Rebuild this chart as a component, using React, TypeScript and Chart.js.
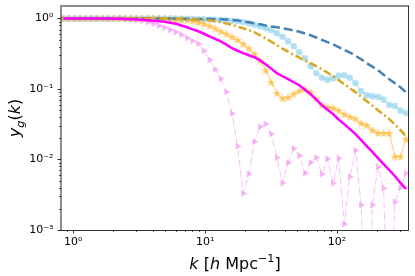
import React, { useEffect, useRef } from 'react';
import { Chart, registerables } from 'chart.js';
Chart.register(...registerables);

// wavenumbers k [h/Mpc]
const kValues = [
  0.843, 0.930, 1.026, 1.131, 1.248, 1.376, 1.518, 1.674, 1.847, 2.037,
  2.247, 2.479, 2.734, 3.016, 3.326, 3.669, 4.047, 4.464, 4.923, 5.431,
  5.990, 6.607, 7.289, 8.038, 8.866, 9.779, 10.79, 11.90, 13.12, 14.47,
  15.97, 17.61, 19.43, 21.43, 23.63, 26.07, 28.76, 31.72, 34.98, 38.59,
  42.56, 46.95, 51.78, 57.12, 63.00, 69.50, 76.66, 84.56, 93.25, 102.8,
  113.4, 125.1, 138.0, 152.2, 167.9, 185.2, 204.3, 225.4, 248.6, 274.2,
  302.5, 333.6,
];

// steelblue dashed
const yDashed = [
  1, 1, 1, 1, 1, 1, 1, 1, 1, 1,
  1, 1, 1, 1, 1, 1, 1, 1, 1, 1,
  1, 0.995, 0.995, 0.99, 0.99, 0.99, 0.985, 0.985, 0.98, 0.975,
  0.96, 0.94, 0.915, 0.885, 0.858, 0.83, 0.80, 0.775, 0.753, 0.73,
  0.705, 0.68, 0.65, 0.615, 0.58, 0.54, 0.50, 0.465, 0.432, 0.395,
  0.361, 0.33, 0.297, 0.265, 0.233, 0.208, 0.185, 0.16, 0.138, 0.121,
  0.106, 0.090,
];

// skyblue circles
const yCircles = [
  1, 1, 1, 1, 1, 1, 1, 1, 1, 1,
  1, 1, 1, 1, 1, 1, 1, 1, 1, 1,
  1, 0.995, 0.99, 0.985, 0.98, 0.975, 0.97, 0.965, 0.96, 0.946,
  0.93, 0.916, 0.887, 0.858, 0.817, 0.778, 0.729, 0.683, 0.619, 0.552,
  0.477, 0.405, 0.333, 0.274, 0.211, 0.168, 0.145, 0.136, 0.143, 0.155,
  0.157, 0.145, 0.121, 0.0934, 0.082, 0.079, 0.078, 0.0708, 0.060, 0.0573,
  0.0494, 0.0455,
];

// goldenrod dash-dot
const yDashDot = [
  1, 1, 1, 1, 1, 1, 1, 1, 1, 1,
  1, 1, 1, 1, 1, 1, 1, 1, 1, 1,
  1, 0.995, 0.99, 0.98, 0.97, 0.96, 0.946, 0.915, 0.886, 0.85,
  0.817, 0.77, 0.729, 0.685, 0.64, 0.58, 0.526, 0.47, 0.419, 0.375,
  0.339, 0.307, 0.279, 0.255, 0.233, 0.211, 0.191, 0.171, 0.152, 0.134,
  0.117, 0.103, 0.0904, 0.078, 0.0674, 0.058, 0.0502, 0.0435, 0.0375, 0.0315,
  0.0262, 0.0215,
];

// orange stars
const yStars = [
  1.02, 1.02, 1.02, 1.02, 1.02, 1.02, 1.02, 1.02, 1.02, 1.02,
  1.02, 1.02, 1.02, 1.02, 1.02, 1.02, 1.02, 1.02, 1.01, 0.99,
  0.97, 0.965, 0.96, 0.93, 0.886, 0.844, 0.79, 0.729, 0.661, 0.609,
  0.552, 0.501, 0.44, 0.38, 0.317, 0.257, 0.185, 0.125, 0.0873, 0.074,
  0.0766, 0.0861, 0.095, 0.0995, 0.0902, 0.074, 0.06, 0.0558, 0.054, 0.050,
  0.044, 0.0406, 0.0382, 0.0329, 0.0308, 0.0263, 0.0238, 0.0238, 0.0238, 0.011,
  0.011, 0.0196,
];

// magenta solid
const yMagenta = [
  1, 1, 1, 1, 1, 1, 1, 1, 1, 0.998,
  0.995, 0.99, 0.98, 0.972, 0.962, 0.948, 0.931, 0.915, 0.90, 0.875,
  0.844, 0.80, 0.753, 0.705, 0.661, 0.61, 0.561, 0.517, 0.477, 0.427,
  0.38, 0.35, 0.323, 0.302, 0.283, 0.255, 0.225, 0.195, 0.168, 0.152,
  0.138, 0.125, 0.1135, 0.098, 0.0847, 0.071, 0.0591, 0.051, 0.0441, 0.037,
  0.0318, 0.027, 0.023, 0.0189, 0.0155, 0.0128, 0.0105, 0.00863, 0.0071, 0.00584,
  0.00465, 0.00382,
];

// violet triangles (1e-5 = below the axis)
const yTriangles = [
  1, 1, 1, 1, 1, 1, 1, 1, 1, 1,
  1, 0.985, 0.962, 0.946, 0.928, 0.886, 0.847, 0.796, 0.746, 0.694,
  0.644, 0.59, 0.53, 0.483, 0.44, 0.35, 0.26, 0.19, 0.14, 0.0912,
  0.0451, 0.0155, 0.00328, 0.00623, 0.0179, 0.0292, 0.0321, 0.0230, 0.0106, 0.0046,
  0.0090, 0.0144, 0.0113, 0.00638, 0.0091, 0.0107, 0.00623, 0.0103, 0.0046, 0.0104,
  0.00121, 0.0057, 0.0136, 0.00227, 0.00001, 0.00227, 0.0079, 0.0039, 0.00001, 0.0025,
  0.004, 0.0064,
];

const xTickValues = [1, 10, 100];
const xTickLabels = ['10⁰', '10¹', '10²'];
const yTickValues = [0.001, 0.01, 0.1, 1];
const yTickLabels = ['10⁻³', '10⁻²', '10⁻¹', '10⁰'];

const FONT = 'DejaVu Sans';

function makeStar(size: number, color: string) {
  const c = document.createElement('canvas');
  c.width = size;
  c.height = size;
  const g = c.getContext('2d')!;
  const cx = size / 2, cy = size / 2 + 0.5;
  const R = size / 2 - 0.3;
  const r = R * 0.42;
  g.beginPath();
  for (let i = 0; i < 10; i++) {
    const ang = -Math.PI / 2 + (i * Math.PI) / 5;
    const rr = i % 2 ? r : R;
    g.lineTo(cx + rr * Math.cos(ang), cy + rr * Math.sin(ang));
  }
  g.closePath();
  g.fillStyle = color;
  g.fill();
  return c;
}

type Part = { t: string; it?: boolean; sup?: boolean; sub?: boolean };

function drawRich(ctx: CanvasRenderingContext2D, parts: Part[], x: number, y: number, size: number) {
  const fontFor = (p: Part) => {
    const s = p.sup || p.sub ? size * 0.7 : size;
    return `${p.it ? 'italic ' : ''}${s}px "${FONT}"`;
  };
  let total = 0;
  const widths = parts.map((p) => {
    ctx.font = fontFor(p);
    const w = ctx.measureText(p.t).width;
    total += w;
    return w;
  });
  let cx = x - total / 2;
  ctx.textAlign = 'left';
  ctx.textBaseline = 'alphabetic';
  parts.forEach((p, i) => {
    ctx.font = fontFor(p);
    const dy = p.sup ? -size * 0.42 : p.sub ? size * 0.22 : 0;
    ctx.fillText(p.t, cx, y + dy);
    cx += widths[i];
  });
}

const framePlugin = {
  id: 'frame',
  afterDraw(chart: any) {
    const { ctx, chartArea: a, scales } = chart;
    const sx = scales.x, sy = scales.y;
    ctx.save();
    // minor ticks
    ctx.strokeStyle = '#333';
    ctx.lineWidth = 0.8;
    for (let d = -4; d <= 3; d++) {
      for (let m = 2; m <= 9; m++) {
        const v = m * Math.pow(10, d);
        if (v >= sx.min && v <= sx.max) {
          const px = Math.round(sx.getPixelForValue(v)) + 0.5;
          ctx.beginPath();
          ctx.moveTo(px, a.bottom);
          ctx.lineTo(px, a.bottom + 2);
          ctx.stroke();
        }
        if (v >= sy.min && v <= sy.max) {
          const py = Math.round(sy.getPixelForValue(v)) + 0.5;
          ctx.beginPath();
          ctx.moveTo(a.left, py);
          ctx.lineTo(a.left - 2, py);
          ctx.stroke();
        }
      }
    }
    // spines
    ctx.strokeStyle = 'rgba(0,0,0,0.45)';
    ctx.lineWidth = 2;
    ctx.beginPath();
    ctx.moveTo(a.left, a.bottom);
    ctx.lineTo(a.left, a.top);
    ctx.lineTo(a.right, a.top);
    ctx.stroke();
    ctx.strokeStyle = 'rgba(0,0,0,0.8)';
    ctx.lineWidth = 1;
    ctx.beginPath();
    ctx.moveTo(a.right - 0.5, a.top);
    ctx.lineTo(a.right - 0.5, a.bottom + 0.5);
    ctx.lineTo(a.left - 1, a.bottom + 0.5);
    ctx.stroke();
    // axis titles
    ctx.fillStyle = '#000';
    drawRich(
      ctx,
      [{ t: 'k', it: true }, { t: ' [' }, { t: 'h', it: true }, { t: ' Mpc' }, { t: '−1', sup: true }, { t: ']' }],
      (a.left + a.right) / 2,
      269,
      16
    );
    ctx.save();
    ctx.translate(20, (a.top + a.bottom) / 2);
    ctx.rotate(-Math.PI / 2);
    drawRich(
      ctx,
      [{ t: 'y', it: true }, { t: 'g', it: true, sub: true }, { t: '(' }, { t: 'k', it: true }, { t: ')' }],
      0,
      0,
      16
    );
    ctx.restore();
    ctx.restore();
  },
};

export default function App() {
  const ref = useRef<HTMLCanvasElement>(null);
  useEffect(() => {
    document.body.style.margin = '0';
    const star = makeStar(10, 'rgba(255,165,0,0.55)');
    const pts = (arr: number[]) => kValues.map((k, i) => ({ x: k, y: arr[i] }));
    const chart = new Chart(ref.current!, {
      type: 'line',
      data: {
        datasets: [
          {
            data: pts(yMagenta),
            borderColor: '#ff00ff',
            borderWidth: 2.5,
            pointRadius: 0,
            order: 0,
          },
          {
            data: pts(yDashDot),
            borderColor: '#daa520',
            borderWidth: 2.5,
            borderDash: [8, 3, 2, 3],
            pointRadius: 0,
            order: 1,
          },
          {
            data: pts(yDashed),
            borderColor: '#4682b4',
            borderWidth: 2.5,
            borderDash: [9, 4],
            pointRadius: 0,
            order: 2,
          },
          {
            data: pts(yStars),
            borderColor: 'rgba(255,165,0,0.55)',
            borderWidth: 1,
            pointStyle: star as any,
            pointRadius: 5,
            order: 3,
          },
          {
            data: pts(yCircles),
            borderColor: 'rgba(135,206,235,0.6)',
            backgroundColor: 'rgba(135,206,235,0.6)',
            borderWidth: 1,
            pointStyle: 'circle',
            pointRadius: 3.3,
            pointBorderWidth: 0,
            order: 4,
          },
          {
            data: pts(yTriangles),
            borderColor: 'rgba(238,130,238,0.5)',
            backgroundColor: 'rgba(238,130,238,0.55)',
            borderWidth: 1,
            borderDash: [6.4, 1.6, 1, 1.6],
            pointStyle: 'triangle',
            pointRotation: 90,
            pointRadius: 4,
            pointBorderWidth: 0,
            order: 5,
          },
        ],
      },
      options: {
        animation: false,
        responsive: false,
        devicePixelRatio: 1,
        layout: { padding: { top: 6, right: 6, left: 0, bottom: 0 } },
        plugins: { legend: { display: false }, tooltip: { enabled: false } },
        elements: { line: { tension: 0 } },
        scales: {
          x: {
            type: 'logarithmic',
            min: 0.807,
            max: 351,
            afterBuildTicks: (s: any) => {
              s.ticks = xTickValues.map((v) => ({ value: v }));
            },
            afterFit: (s: any) => {
              s.height = 46;
              s.paddingLeft = 0;
              s.paddingRight = 0;
            },
            ticks: {
              autoSkip: false,
              maxRotation: 0,
              padding: 2,
              color: '#000',
              font: { family: FONT, size: 11 },
              callback: (v: any) => {
                const i = xTickValues.indexOf(Number(v));
                return i >= 0 ? xTickLabels[i] : '';
              },
            },
            grid: { drawOnChartArea: false, drawTicks: true, tickLength: 3.5, tickColor: '#333', tickWidth: 1 },
            border: { display: false },
          },
          y: {
            type: 'logarithmic',
            min: 0.001,
            max: 1.51,
            afterBuildTicks: (s: any) => {
              s.ticks = yTickValues.map((v) => ({ value: v }));
            },
            afterFit: (s: any) => {
              s.width = 61;
              s.paddingTop = 0;
              s.paddingBottom = 0;
            },
            ticks: {
              autoSkip: false,
              padding: 4,
              color: '#000',
              font: { family: FONT, size: 11 },
              callback: (v: any) => {
                const n = Number(v);
                const i = yTickValues.findIndex((t) => Math.abs(t - n) / t < 1e-6);
                return i >= 0 ? yTickLabels[i] : '';
              },
            },
            grid: { drawOnChartArea: false, drawTicks: true, tickLength: 3.5, tickColor: '#333', tickWidth: 1 },
            border: { display: false },
          },
        },
      },
      plugins: [framePlugin],
    } as any);
    return () => chart.destroy();
  }, []);
  return <canvas ref={ref} width={415} height={276} style={{ display: 'block' }} />;
}
